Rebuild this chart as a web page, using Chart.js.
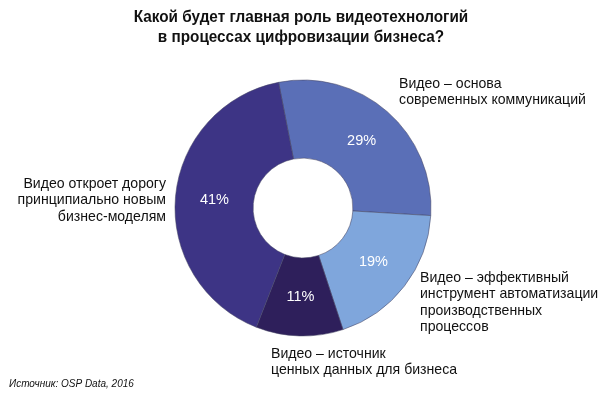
<!DOCTYPE html>
<html>
<head>
<meta charset="utf-8">
<style>
  html, body { margin: 0; padding: 0; background: #fff; }
  #wrap { width: 600px; height: 398px; position: relative; }
</style>
<script src="https://cdn.jsdelivr.net/npm/chart.js@4/dist/chart.umd.min.js"></script>
</head>
<body>
<div id="wrap"><canvas id="roleChart" width="600" height="398"></canvas></div>
<script>
const categories = [
  ["Видео – основа", "современных коммуникаций"],
  ["Видео – эффективный", "инструмент автоматизации", "производственных", "процессов"],
  ["Видео – источник", "ценных данных для бизнеса"],
  ["Видео откроет дорогу", "принципиально новым", "бизнес-моделям"]
];
const shares = [29, 19, 11, 41];
const sliceColors = ["#5a6fb7", "#7fa6dc", "#2e1f5b", "#3d3485"];
const titleLines = ["Какой будет главная роль видеотехнологий", "в процессах цифровизации бизнеса?"];
const sourceNote = "Источник: OSP Data, 2016";

// where each outside label sits: x, first line y, alignment
const labelSpots = [
  { x: 399, y: 84, align: "left" },
  { x: 420, y: 278, align: "left" },
  { x: 271, y: 354, align: "left" },
  { x: 166, y: 184, align: "right" }
];

const FONT = "'Liberation Sans', Arial, sans-serif";

const textPlugin = {
  id: "textPlugin",
  afterDatasetsDraw(chart) {
    const ctx = chart.ctx;
    const arcs = chart.getDatasetMeta(0).data;
    ctx.save();
    ctx.textBaseline = "middle";

    // percentages inside the ring
    ctx.fillStyle = "#ffffff";
    ctx.font = "14.5px " + FONT;
    ctx.textAlign = "center";
    arcs.forEach((arc, i) => {
      const p = arc.tooltipPosition();
      ctx.fillText(shares[i] + "%", p.x, p.y);
    });

    // outside labels
    ctx.fillStyle = "#111111";
    ctx.font = "14.1px " + FONT;
    categories.forEach((lines, i) => {
      const spot = labelSpots[i];
      ctx.textAlign = spot.align;
      lines.forEach((line, j) => ctx.fillText(line, spot.x, spot.y + j * 16.5));
    });

    // title, squeezed to look like a narrow bold face
    ctx.font = "bold 17px " + FONT;
    ctx.textAlign = "center";
    titleLines.forEach((line, j) => {
      ctx.save();
      ctx.translate(301, 17 + j * 20);
      ctx.scale(0.9, 1);
      ctx.fillText(line, 0, 0);
      ctx.restore();
    });

    // source
    ctx.font = "italic 10px " + FONT;
    ctx.textAlign = "left";
    ctx.fillText(sourceNote, 9, 384);
    ctx.restore();
  }
};

new Chart(document.getElementById("roleChart"), {
  type: "doughnut",
  data: {
    labels: categories.map(l => l.join(" ")),
    datasets: [{
      data: shares,
      backgroundColor: sliceColors,
      borderColor: "rgba(70,70,100,0.55)",
      borderWidth: 1
    }]
  },
  options: {
    responsive: false,
    animation: false,
    rotation: -11,
    cutout: "39%",
    layout: {
      padding: { left: 174.5, right: 168.5, top: 79.5, bottom: 61.5 }
    },
    plugins: {
      legend: { display: false },
      tooltip: { enabled: false },
      title: { display: false }
    }
  },
  plugins: [textPlugin]
});
</script>
</body>
</html>
